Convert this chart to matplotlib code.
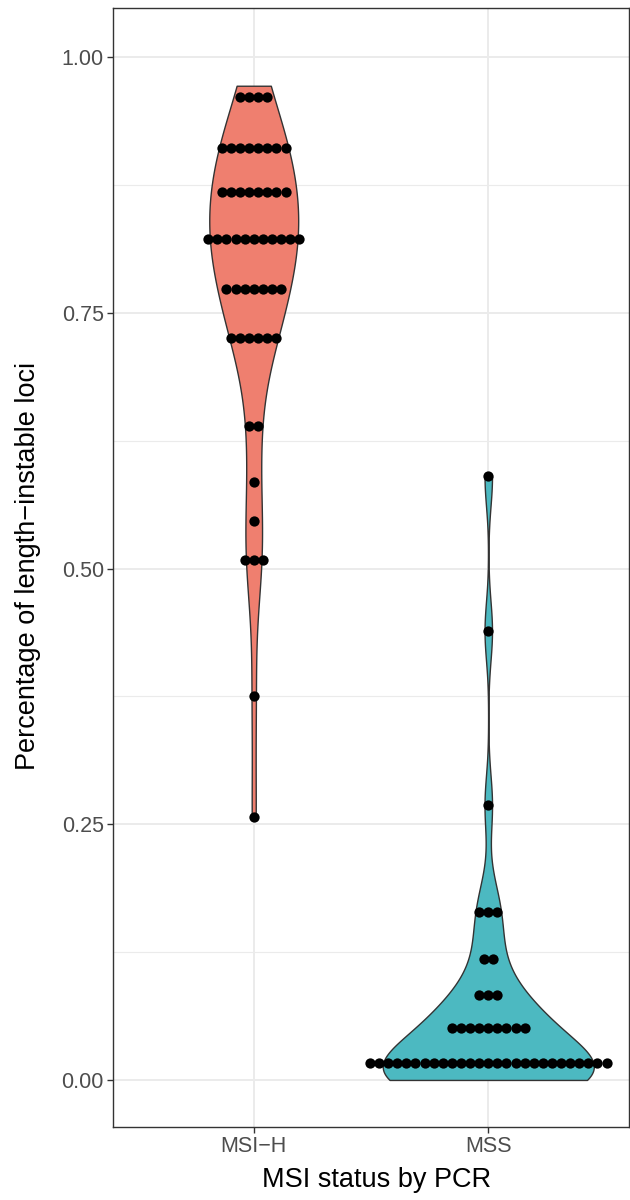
import numpy as np
import matplotlib
matplotlib.use("Agg")
import matplotlib.pyplot as plt

# ---- data (estimated per-sample values) ----
categories = ["MSI\u2212H", "MSS"]

msih_values = [
    0.257, 0.375,
    0.500, 0.508, 0.516,
    0.546, 0.585,
    0.632, 0.646,
    0.710, 0.718, 0.725, 0.725, 0.732, 0.740,
    0.758, 0.763, 0.768, 0.773, 0.778, 0.783, 0.788,
    0.805, 0.808, 0.812, 0.815, 0.819, 0.822, 0.825, 0.829, 0.832, 0.836, 0.839,
    0.852, 0.857, 0.861, 0.866, 0.870, 0.875, 0.879, 0.884,
    0.895, 0.900, 0.904, 0.909, 0.913, 0.918, 0.922, 0.927,
    0.950, 0.958, 0.965, 0.972,
]

mss_values = [
    0.000, 0.000, 0.000, 0.000, 0.000, 0.000, 0.000, 0.000,
    0.000, 0.000, 0.000, 0.000, 0.000, 0.000, 0.000, 0.000,
    0.009, 0.009, 0.009, 0.009,
    0.017, 0.017, 0.017,
    0.026, 0.026,
    0.034, 0.034,
    0.037, 0.045, 0.045, 0.055, 0.055, 0.060, 0.065, 0.065, 0.065,
    0.074, 0.083, 0.092,
    0.111, 0.125,
    0.150, 0.164, 0.178,
    0.269, 0.439, 0.590,
]

y_ticks = [0.00, 0.25, 0.50, 0.75, 1.00]
y_ticklabels = ["0.00", "0.25", "0.50", "0.75", "1.00"]

# ---- style / parameters ----
fills = ["#EF7F6F", "#4CB9C1"]
bandwidths = [0.052, 0.029]
DOT_BINWIDTH = 0.036
FONT = "Liberation Sans"
W, H = 630, 1200
DPI = 100

fig = plt.figure(figsize=(W / DPI, H / DPI), dpi=DPI)
left_px, right_px, top_px, bot_px = 113, 629, 8, 1127
ax = fig.add_axes([left_px / W, 1 - bot_px / H, (right_px - left_px) / W, (bot_px - top_px) / H])
ax.set_xlim(0.4, 2.6)
ax.set_ylim(-0.046, 1.048)

# grid
for v in np.arange(0.125, 1.0, 0.25):
    ax.axhline(v, color="#EBEBEB", lw=0.8, zorder=0)
for v in y_ticks:
    ax.axhline(v, color="#EBEBEB", lw=1.4, zorder=0)
for i in range(len(categories)):
    ax.axvline(i + 1, color="#EBEBEB", lw=1.4, zorder=0)


def kde(values, grid, bw):
    values = np.asarray(values)
    d = (grid[:, None] - values[None, :]) / bw
    return np.exp(-0.5 * d ** 2).sum(axis=1) / (len(values) * bw * np.sqrt(2 * np.pi))


def dot_bins(values, binwidth):
    """ggplot2 'dotdensity' binning: bins start at a point, centre = mid of min/max."""
    bins = []
    end = -np.inf
    for x in sorted(values):
        if x >= end - 1e-12:
            bins.append([x])
            end = x + binwidth
        else:
            bins[-1].append(x)
    return [((min(b) + max(b)) / 2, len(b)) for b in bins]


groups = [msih_values, mss_values]

dens = []
for vals, bw in zip(groups, bandwidths):
    grid = np.linspace(min(vals), max(vals), 512)
    dens.append((grid, kde(vals, grid, bw)))
gmax = max(d.max() for _, d in dens)

for i, ((grid, d), col) in enumerate(zip(dens, fills)):
    hw = d / gmax * 0.45
    ax.fill_betweenx(grid, i + 1 - hw, i + 1 + hw, facecolor=col,
                     edgecolor="#333333", linewidth=1.0, zorder=2)

# dots (centered stacks)
axes_w_px = right_px - left_px
step_px = 9.1
dot_px = 10.3
step = step_px * 2.2 / axes_w_px
msize = dot_px * 72 / DPI
for i, vals in enumerate(groups):
    for level, n in dot_bins(vals, DOT_BINWIDTH):
        offs = (np.arange(n) - (n - 1) / 2) * step
        ax.plot(i + 1 + offs, np.full(n, level), "o", ms=msize, color="black",
                mec="none", zorder=3, clip_on=False)

# axes styling
for s in ax.spines.values():
    s.set_color("#333333")
    s.set_linewidth(1.0)
ax.set_xticks([1, 2])
ax.set_xticklabels(categories)
ax.set_yticks(y_ticks)
ax.set_yticklabels(y_ticklabels)
ax.tick_params(length=4, width=1.0, color="#333333", labelcolor="#4D4D4D",
               labelsize=15.5, pad=2.5)
for lab in ax.get_xticklabels() + ax.get_yticklabels():
    lab.set_fontfamily(FONT)

fig.text(28 / W, 1 - 566 / H, "Percentage of length\u2212instable loci", rotation=90,
         ha="center", va="center", fontsize=19.5, family=FONT)
fig.text(377 / W, 1 - 1180 / H, "MSI status by PCR", ha="center", va="center",
         fontsize=19.5, family=FONT)

fig.savefig("out.png", dpi=DPI)
